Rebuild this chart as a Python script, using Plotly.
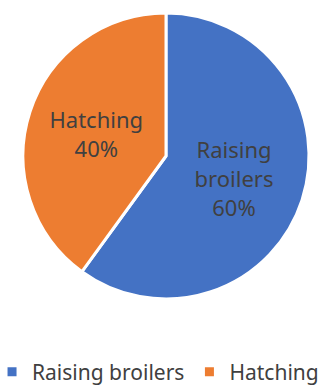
import plotly.graph_objects as go

labels = ["Raising broilers", "Hatching"]
values = [60, 40]
colors = ["#4472C4", "#ED7D31"]

H = 386
B = 70
plot_h = H - B

fig = go.Figure(go.Pie(
    labels=labels,
    values=values,
    sort=False,
    direction="clockwise",
    rotation=0,
    domain=dict(x=[0, 1], y=[(plot_h - 299) / plot_h, (plot_h - 13) / plot_h]),
    marker=dict(colors=colors, line=dict(color="white", width=3)),
    texttemplate=["Raising<br>broilers<br>%{percent:.0%}", "Hatching<br>%{percent:.0%}"],
    textposition="inside",
    insidetextorientation="horizontal",
    textfont=dict(family="Noto Sans", size=22, color="#404040"),
    hoverinfo="label+percent",
))

fig.update_layout(
    width=332, height=H,
    margin=dict(l=0, r=0, t=0, b=B, autoexpand=False),
    paper_bgcolor="white",
    showlegend=True,
    legend=dict(
        orientation="h",
        x=-0.024, xanchor="left",
        y=(plot_h - 372) / plot_h, yanchor="middle",
        font=dict(family="Noto Sans", size=21, color="#404040"),
        itemwidth=30,
        bgcolor="rgba(0,0,0,0)",
    ),
)

fig.write_html("out.html")
